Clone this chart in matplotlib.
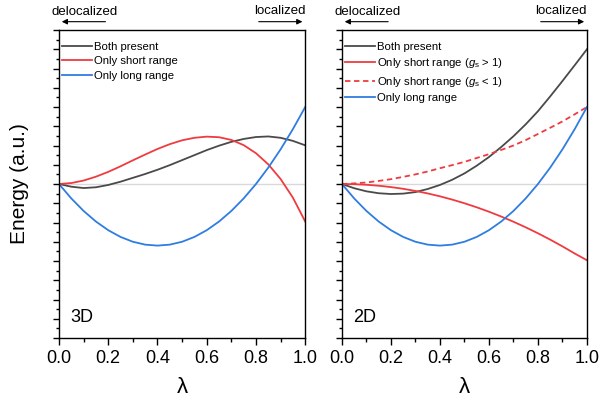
import numpy as np
import matplotlib
matplotlib.use("Agg")
import matplotlib.pyplot as plt
from matplotlib.ticker import MultipleLocator

#====== Datos ======
lam = [0.0, 0.05, 0.1, 0.15, 0.2, 0.25, 0.3, 0.35, 0.4, 0.45, 0.5,
       0.55, 0.6, 0.65, 0.7, 0.75, 0.8, 0.85, 0.9, 0.95, 1.0]

# panel 3D
both_3d = [0.0, -0.14, -0.21, -0.17, -0.05, 0.12, 0.32, 0.52, 0.74, 0.98, 1.24,
           1.50, 1.76, 1.99, 2.19, 2.34, 2.44, 2.47, 2.40, 2.24, 2.01]
short_3d = [0.0, 0.05, 0.18, 0.38, 0.63, 0.92, 1.23, 1.53, 1.82, 2.07, 2.27,
            2.40, 2.46, 2.43, 2.29, 2.02, 1.60, 1.02, 0.26, -0.71, -1.95]
long_3d = [0.0, -0.75, -1.40, -1.95, -2.40, -2.75, -3.00, -3.15, -3.20, -3.15, -3.00,
           -2.75, -2.40, -1.95, -1.40, -0.75, 0.0, 0.85, 1.80, 2.85, 4.00]

# panel 2D
both_2d = [0.0, -0.22, -0.38, -0.48, -0.52, -0.50, -0.42, -0.26, -0.05, 0.22, 0.55,
           0.95, 1.40, 1.92, 2.48, 3.10, 3.78, 4.55, 5.35, 6.17, 7.00]
short_gt_2d = [0.0, -0.01, -0.04, -0.09, -0.16, -0.25, -0.36, -0.49, -0.64, -0.81, -1.00,
               -1.21, -1.44, -1.69, -1.96, -2.25, -2.56, -2.89, -3.24, -3.61, -3.96]
short_lt_2d = [0.0, 0.03, 0.08, 0.16, 0.25, 0.37, 0.50, 0.65, 0.82, 0.98, 1.15,
               1.35, 1.55, 1.77, 2.00, 2.28, 2.60, 2.92, 3.25, 3.62, 4.00]
long_2d = long_3d

x_ticks = [0.0, 0.2, 0.4, 0.6, 0.8, 1.0]
x_ticklabels = ["0.0", "0.2", "0.4", "0.6", "0.8", "1.0"]

etiquetas_3d = ["Both present", "Only short range", "Only long range"]
etiquetas_2d = ["Both present", r"Only short range ($g_{\rm s}$ > 1)",
                r"Only short range ($g_{\rm s}$ < 1)", "Only long range"]

gris = "#4a4a4a"
rojo = "#ef3b40"
azul = "#2f7de1"

plt.rcParams["font.family"] = ["Liberation Sans", "DejaVu Sans"]
plt.rcParams["mathtext.fontset"] = "custom"
plt.rcParams["mathtext.rm"] = "Liberation Sans"
plt.rcParams["mathtext.it"] = "Liberation Sans:italic"

fig = plt.figure(figsize=(6.02, 4.0), dpi=100)
ax1 = fig.add_axes([0.098, 0.155, 0.409, 0.77])
ax2 = fig.add_axes([0.568, 0.155, 0.407, 0.77])


def preparar_eje(ax, etiqueta):
    ax.axhline(0, color="#d9d9d9", lw=1.0, zorder=0)
    ax.set_xlim(0, 1)
    ax.set_ylim(-8, 8)
    ax.set_xticks(x_ticks)
    ax.set_xticklabels(x_ticklabels)
    ax.xaxis.set_minor_locator(MultipleLocator(0.1))
    ax.yaxis.set_major_locator(MultipleLocator(1))
    ax.yaxis.set_minor_locator(MultipleLocator(0.5))
    ax.tick_params(axis="x", which="major", direction="out", length=5, width=1, labelsize=13)
    ax.tick_params(axis="x", which="minor", direction="out", length=3, width=1)
    ax.tick_params(axis="y", which="major", direction="out", length=4, width=1, labelleft=False)
    ax.tick_params(axis="y", which="minor", direction="out", length=2.5, width=1)
    ax.set_xlabel("λ", fontsize=16, labelpad=7)
    for s in ax.spines.values():
        s.set_linewidth(1.0)
    ax.text(0.045, 0.065, etiqueta, transform=ax.transAxes, fontsize=13, va="center")
    # flechas deslocalizado / localizado
    ax.annotate("", xy=(0.0, 1.027), xytext=(0.2, 1.027), xycoords="axes fraction",
                arrowprops=dict(arrowstyle="-|>", color="black", lw=0.8, mutation_scale=8),
                annotation_clip=False)
    ax.annotate("", xy=(1.0, 1.027), xytext=(0.8, 1.027), xycoords="axes fraction",
                arrowprops=dict(arrowstyle="-|>", color="black", lw=0.8, mutation_scale=8),
                annotation_clip=False)
    ax.text(-0.03, 1.038, "delocalized", transform=ax.transAxes, fontsize=9.5, va="bottom", ha="left")
    ax.text(1.0, 1.042, "localized", transform=ax.transAxes, fontsize=9.5, va="bottom", ha="right")


preparar_eje(ax1, "3D")
preparar_eje(ax2, "2D")
ax1.set_ylabel("Energy (a.u.)", fontsize=15, labelpad=16)

ax1.plot(lam, both_3d, color=gris, lw=1.3, label=etiquetas_3d[0])
ax1.plot(lam, short_3d, color=rojo, lw=1.3, label=etiquetas_3d[1])
ax1.plot(lam, long_3d, color=azul, lw=1.3, label=etiquetas_3d[2])

ax2.plot(lam, both_2d, color=gris, lw=1.3, label=etiquetas_2d[0])
ax2.plot(lam, short_gt_2d, color=rojo, lw=1.3, label=etiquetas_2d[1])
ax2.plot(lam, short_lt_2d, color=rojo, lw=1.3, ls=(0, (3, 2)), label=etiquetas_2d[2])
ax2.plot(lam, long_2d, color=azul, lw=1.3, label=etiquetas_2d[3])

for ax in (ax1, ax2):
    ax.legend(loc="upper left", bbox_to_anchor=(-0.014, 0.984), frameon=False, fontsize=8.2,
              handlelength=2.6, handletextpad=0.2, labelspacing=0.4,
              borderaxespad=0.3, borderpad=0.3)

fig.savefig("out.png", dpi=100)
